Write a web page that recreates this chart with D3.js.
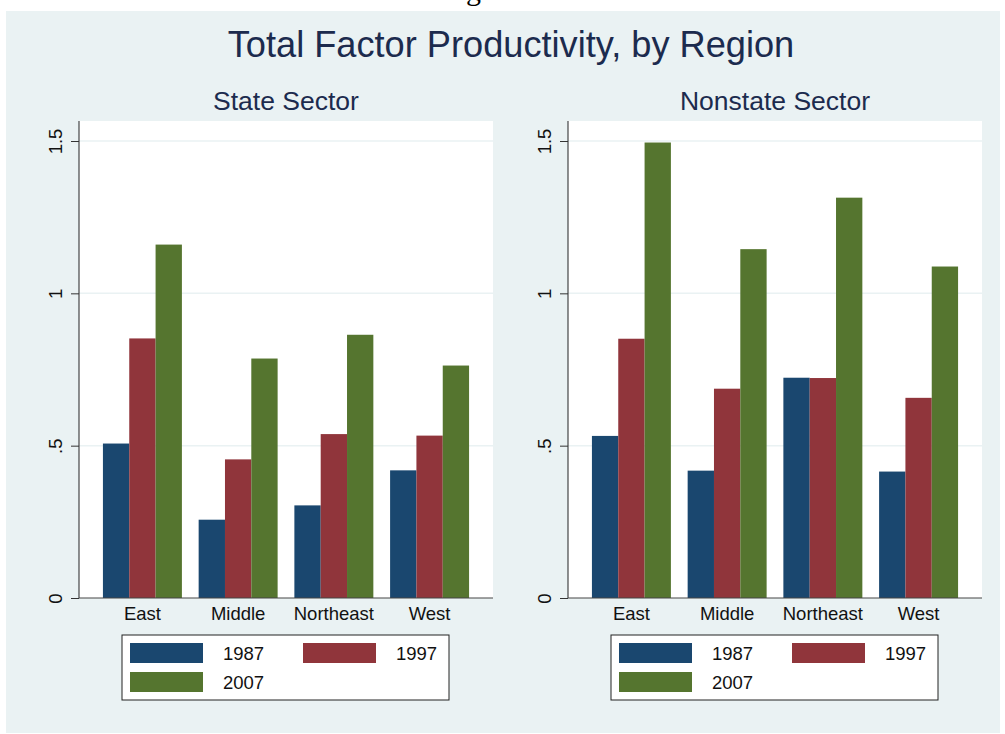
<!DOCTYPE html>
<html>
<head>
<meta charset="utf-8">
<script src="https://cdn.jsdelivr.net/npm/d3@7"></script>
<style>
    body { margin: 0; background: #ffffff; }
    svg { display: block; font-family: "Liberation Sans", Arial, sans-serif; }
</style>
</head>
<body>
<div id="chart"></div>
<script>

/*
    DATA
*/

var regions = ["East", "Middle", "Northeast", "West"];
var years = ["1987", "1997", "2007"];

// state sector, one array per year
var state1987 = [0.507, 0.257, 0.304, 0.419];
var state1997 = [0.852, 0.455, 0.538, 0.533];
var state2007 = [1.160, 0.786, 0.864, 0.763];

// nonstate sector
var nonstate1987 = [0.532, 0.418, 0.723, 0.415];
var nonstate1997 = [0.851, 0.687, 0.722, 0.657];
var nonstate2007 = [1.495, 1.145, 1.314, 1.088];

var yTicks = [0, 0.5, 1, 1.5];
var yTickLabels = ["0", ".5", "1", "1.5"];

var panelTitles = ["State Sector", "Nonstate Sector"];


var colors = ["#1a476f", "#90353b", "#55752f"];
var width = 1005, height = 734;

var svg = d3.select("#chart").append("svg")
    .attr("width", width)
    .attr("height", height);

// cut off caption line from the page above the figure (only the descender shows)
svg.append("text")
    .attr("x", 441)
    .attr("y", -0.5)
    .attr("font-family", "'Liberation Serif', 'Times New Roman', serif")
    .attr("font-size", 30)
    .text("Figure");

// graph region background
svg.append("rect")
    .attr("x", 6)
    .attr("y", 11)
    .attr("width", 994)
    .attr("height", 722)
    .attr("fill", "#eaf2f3");

svg.append("text")
    .attr("x", 511)
    .attr("y", 57)
    .attr("text-anchor", "middle")
    .attr("font-size", 36.2)
    .attr("fill", "#1c2b4e")
    .text("Total Factor Productivity, by Region");


// build a table for each panel from the arrays
function makeRows(a, b, c) {
    return regions.map(function(r, i) {
        return {region: r, values: [a[i], b[i], c[i]]};
    });
}

var panels = [
    {title: panelTitles[0], left: 79, rows: makeRows(state1987, state1997, state2007)},
    {title: panelTitles[1], left: 568, rows: makeRows(nonstate1987, nonstate1997, nonstate2007)}
];

var plotW = 414, plotTop = 121, plotBottom = 598;

var y = d3.scaleLinear()
    .domain([0, 1.5])
    .range([plotBottom, plotBottom - 457]);

var x0 = d3.scaleBand()
    .domain(regions)
    .range([0, plotW])
    .paddingInner(0.175)
    .paddingOuter(0.25);

var x1 = d3.scaleBand()
    .domain(years)
    .range([0, x0.bandwidth()])
    .padding(0);

panels.forEach(function(p) {
    var g = svg.append("g")
        .attr("transform", "translate(" + p.left + ",0)");

    // subtitle
    g.append("text")
        .attr("x", plotW / 2)
        .attr("y", 110)
        .attr("text-anchor", "middle")
        .attr("font-size", 26.5)
        .attr("fill", "#1c2b4e")
        .text(p.title);

    // white plot region
    g.append("rect")
        .attr("x", 0)
        .attr("y", plotTop)
        .attr("width", plotW)
        .attr("height", plotBottom - plotTop)
        .attr("fill", "#ffffff");

    // grid lines
    g.selectAll(".grid")
        .data(yTicks.slice(1))
        .enter().append("line")
        .attr("x1", 0)
        .attr("x2", plotW)
        .attr("y1", function(d) { return y(d); })
        .attr("y2", function(d) { return y(d); })
        .attr("stroke", "#eaf2f3")
        .attr("stroke-width", 1.5);

    // bars
    var groups = g.selectAll(".grp")
        .data(p.rows)
        .enter().append("g")
        .attr("transform", function(d) { return "translate(" + x0(d.region) + ",0)"; });

    groups.selectAll("rect")
        .data(function(d) { return d.values; })
        .enter().append("rect")
        .attr("x", function(d, i) { return x1(years[i]); })
        .attr("width", x1.bandwidth())
        .attr("y", function(d) { return y(d); })
        .attr("height", function(d) { return plotBottom - y(d); })
        .attr("fill", function(d, i) { return colors[i]; });

    // y axis
    var yAxis = g.append("g")
        .call(d3.axisLeft(y).tickValues(yTicks).tickSize(8).tickFormat(function(d, i) { return yTickLabels[i]; }));
    yAxis.select(".domain")
        .attr("d", "M0," + plotTop + "V" + plotBottom)
        .attr("stroke", "#222");
    yAxis.selectAll(".tick line").attr("stroke", "#333");
    yAxis.selectAll(".tick text")
        .attr("font-size", 18.5)
        .attr("font-family", "'Liberation Sans', Arial, sans-serif")
        .attr("fill", "#111")
        .attr("text-anchor", "middle")
        .attr("dy", 0)
        .attr("x", 0)
        .attr("transform", "translate(-17,0) rotate(-90)");

    // x axis
    var xAxis = g.append("g")
        .attr("transform", "translate(0," + plotBottom + ")")
        .call(d3.axisBottom(x0).tickSize(0).tickPadding(0));
    xAxis.select(".domain").attr("stroke", "#444").attr("d", "M0,0H" + plotW);
    xAxis.selectAll(".tick text")
        .attr("font-size", 18.5)
        .attr("font-family", "'Liberation Sans', Arial, sans-serif")
        .attr("fill", "#111")
        .attr("dy", 0)
        .attr("y", 21.5);

    // legend
    var lx = 43, ly = 635;
    var leg = g.append("g")
        .attr("transform", "translate(" + lx + "," + ly + ")");
    leg.append("rect")
        .attr("width", 327)
        .attr("height", 65)
        .attr("fill", "#ffffff")
        .attr("stroke", "#222")
        .attr("stroke-width", 1);

    var items = leg.selectAll(".item")
        .data(years)
        .enter().append("g")
        .attr("transform", function(d, i) {
            return "translate(" + (8 + (i % 2) * 173) + "," + (8 + Math.floor(i / 2) * 29) + ")";
        });
    items.append("rect")
        .attr("width", 73)
        .attr("height", 20)
        .attr("fill", function(d, i) { return colors[i]; });
    items.append("text")
        .attr("x", 93)
        .attr("y", 16.5)
        .attr("font-size", 18.5)
        .attr("fill", "#111")
        .text(function(d) { return d; });
});

</script>
</body>
</html>
